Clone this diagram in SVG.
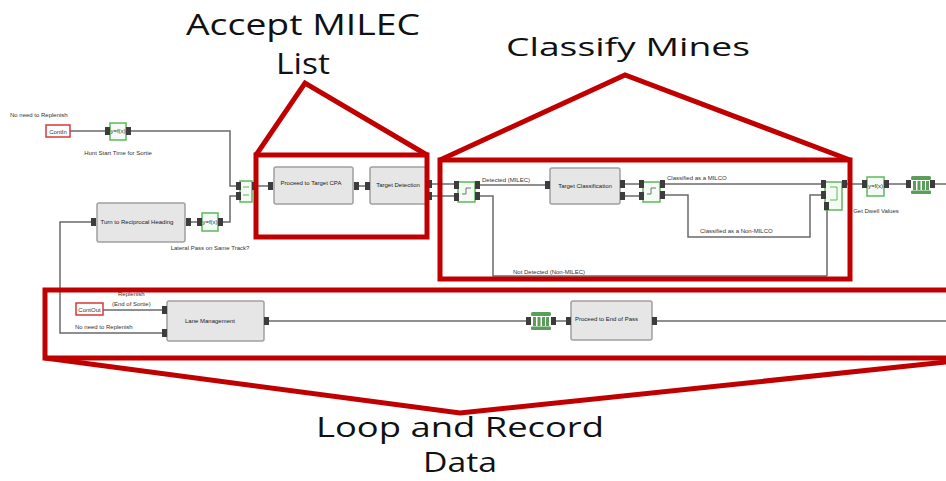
<svg xmlns="http://www.w3.org/2000/svg" width="946" height="481" viewBox="0 0 946 481">
<style>
.title{font-family:"Open Sans","Liberation Sans",sans-serif;fill:#111;}
.lbl{font-family:"Liberation Sans",Arial,sans-serif;font-size:6px;fill:#333;}
.ntxt{font-family:"Liberation Sans",Arial,sans-serif;font-size:6px;fill:#222;}
.box{fill:#e6e6e6;stroke:#a0a0a0;stroke-width:1.5;}
.gbox{fill:#f4fbf4;stroke:#5cb85c;stroke-width:1.5;}
.rbox{fill:#fff;stroke:#d8383a;stroke-width:1.5;}
.port{fill:#3c3c3c;}
.wire{fill:none;stroke:#6a6a6a;stroke-width:1.5;}
.red{fill:none;stroke:#c00000;stroke-width:5;stroke-linejoin:miter;}
.db{fill:#5a9e5a;}
</style>
<defs>
<g id="dbicon">
<rect class="db" x="0" y="0" width="20" height="4" rx="1.5"/>
<rect class="db" x="2" y="5" width="3" height="9"/>
<rect class="db" x="6.5" y="5" width="3" height="9"/>
<rect class="db" x="11" y="5" width="3" height="9"/>
<rect class="db" x="15" y="5" width="3" height="9"/>
<rect class="db" x="0" y="14.5" width="20" height="3.5" rx="1"/>
</g>
</defs>

<g id="connectors">
<path class="wire" d="M70,131 H106"/>
<path class="wire" d="M131,131 H230 V186 H237"/>
<path class="wire" d="M191,222 H198"/>
<path class="wire" d="M222,222 H230 V196 H237"/>
<path class="wire" d="M92,222 H60 V333 H163"/>
<path class="wire" d="M257,186 H269"/>
<path class="wire" d="M358,186 H366"/>
<path class="wire" d="M431,184 H455"/>
<path class="wire" d="M431,196 H455"/>
<path class="wire" d="M479,185 H546"/>
<path class="wire" d="M479,196 H493 V276 H827"/>
<path class="wire" d="M624,184 H640"/>
<path class="wire" d="M624,196 H640"/>
<path class="wire" d="M664,184 H822"/>
<path class="wire" d="M664,195 H688 V237 H810 V195 H822"/>
<path class="wire" d="M827,276 V210"/>
<path class="wire" d="M846,184 H863"/>
<path class="wire" d="M888,184 H907"/>
<path class="wire" d="M934,184 H946"/>
<path class="wire" d="M103,310 H163"/>
<path class="wire" d="M268,321 H527"/>
<path class="wire" d="M555,321 H567"/>
<path class="wire" d="M656,321 H946"/>
</g>

<g id="contin">
<text class="lbl" x="10" y="117">No need to Replenish</text>
<rect class="rbox" x="46" y="125" width="24" height="12"/>
<text class="lbl" x="58" y="133.5" text-anchor="middle">ContIn</text>
</g>

<g id="fn-hunt-start">
<rect class="gbox" x="110" y="123" width="16" height="17"/>
<text class="lbl" x="118" y="133" text-anchor="middle" font-size="5">y=f(x)</text>
<rect class="port" x="105" y="127" width="5" height="8"/>
<rect class="port" x="126" y="127" width="5" height="8"/>
<text class="lbl" x="118" y="155" text-anchor="middle" font-size="4.5">Hunt Start Time for Sortie</text>
</g>

<g id="turn-reciprocal">
<rect class="box" x="97" y="203" width="88" height="39" rx="2"/>
<text class="ntxt" x="137" y="224" text-anchor="middle">Turn to Reciprocal Heading</text>
<rect class="port" x="91" y="218" width="5" height="8"/>
<rect class="port" x="186" y="218" width="5" height="8"/>
</g>

<g id="fn-lateral-pass">
<rect class="gbox" x="202" y="213" width="16" height="18"/>
<text class="lbl" x="210" y="224" text-anchor="middle" font-size="5">y=f(x)</text>
<rect class="port" x="197" y="218" width="5" height="8"/>
<rect class="port" x="218" y="218" width="5" height="8"/>
<text class="lbl" x="210" y="250" text-anchor="middle" font-size="4.5">Lateral Pass on Same Track?</text>
</g>

<g id="merge-1">
<rect class="gbox" x="240" y="181" width="12" height="21"/>
<path d="M243,187 H249 M243,195 H249" stroke="#5cb85c" stroke-width="1"/>
<rect class="port" x="236" y="182" width="5" height="8"/>
<rect class="port" x="236" y="192" width="5" height="8"/>
<rect class="port" x="252" y="182" width="5" height="8"/>
</g>

<g id="proceed-cpa">
<rect class="box" x="274" y="167" width="79" height="37" rx="2"/>
<text class="ntxt" x="311" y="185" text-anchor="middle">Proceed to Target CPA</text>
<rect class="port" x="268" y="182" width="5" height="8"/>
<rect class="port" x="354" y="182" width="5" height="8"/>
</g>

<g id="target-detection">
<rect class="box" x="370" y="167" width="57" height="37" rx="2"/>
<text class="ntxt" x="398" y="187" text-anchor="middle">Target Detection</text>
<rect class="port" x="365" y="182" width="5" height="8"/>
<rect class="port" x="427" y="180" width="5" height="8"/>
<rect class="port" x="427" y="192" width="5" height="8"/>
</g>

<g id="switch-detect">
<rect class="gbox" x="458" y="182" width="17" height="20"/>
<path d="M462,194 H466 V188 H471" fill="none" stroke="#555" stroke-width="0.8"/>
<rect class="port" x="454" y="181" width="5" height="8"/>
<rect class="port" x="454" y="193" width="5" height="8"/>
<rect class="port" x="475" y="181" width="5" height="8"/>
<rect class="port" x="475" y="192" width="5" height="8"/>
<text class="lbl" x="482" y="182">Detected (MILEC)</text>
<text class="lbl" x="513" y="274">Not Detected (Non-MILEC)</text>
</g>

<g id="target-classification">
<rect class="box" x="550" y="168" width="70" height="36" rx="2"/>
<text class="ntxt" x="585" y="188" text-anchor="middle">Target Classification</text>
<rect class="port" x="545" y="181" width="5" height="8"/>
<rect class="port" x="620" y="180" width="5" height="8"/>
<rect class="port" x="620" y="192" width="5" height="8"/>
</g>

<g id="switch-classify">
<rect class="gbox" x="643" y="182" width="17" height="20"/>
<path d="M647,194 H651 V188 H656" fill="none" stroke="#555" stroke-width="0.8"/>
<rect class="port" x="639" y="180" width="5" height="8"/>
<rect class="port" x="639" y="192" width="5" height="8"/>
<rect class="port" x="660" y="180" width="5" height="8"/>
<rect class="port" x="660" y="191" width="5" height="8"/>
<text class="lbl" x="667" y="180">Classified as a MILCO</text>
<text class="lbl" x="700" y="233">Classified as a Non-MILCO</text>
</g>

<g id="merge-3">
<rect class="gbox" x="825" y="182" width="17" height="28"/>
<path d="M830,187 H837 V200 H830" fill="none" stroke="#5cb85c" stroke-width="1"/>
<rect class="port" x="821" y="180" width="5" height="8"/>
<rect class="port" x="821" y="191" width="5" height="8"/>
<rect class="port" x="824" y="202" width="5" height="8"/>
<rect class="port" x="842" y="180" width="5" height="8"/>
</g>

<g id="fn-dwell">
<rect class="gbox" x="867" y="177" width="17" height="19"/>
<text class="lbl" x="875.5" y="188" text-anchor="middle" font-size="5">y=f(x)</text>
<rect class="port" x="862" y="180" width="5" height="8"/>
<rect class="port" x="884" y="180" width="5" height="8"/>
<text class="lbl" x="876" y="213" text-anchor="middle" font-size="4.5">Get Dwell Values</text>
</g>

<g id="record-1">
<rect class="port" x="906" y="180" width="5" height="8"/>
<use href="#dbicon" x="911" y="176"/>
<rect class="port" x="930" y="180" width="5" height="8"/>
</g>

<g id="contout">
<rect class="rbox" x="76" y="303" width="27" height="12"/>
<text class="lbl" x="89.5" y="311.5" text-anchor="middle">ContOut</text>
<text class="lbl" x="118" y="296">Replenish</text>
<text class="lbl" x="112" y="306">(End of Sortie)</text>
<text class="lbl" x="75" y="329">No need to Replenish</text>
</g>

<g id="lane-management">
<rect class="box" x="167" y="301" width="97" height="40" rx="2"/>
<text class="ntxt" x="210" y="323" text-anchor="middle">Lane Management</text>
<rect class="port" x="162" y="306" width="5" height="8"/>
<rect class="port" x="162" y="329" width="5" height="8"/>
<rect class="port" x="264" y="317" width="5" height="8"/>
</g>

<g id="record-2">
<rect class="port" x="526" y="317" width="5" height="8"/>
<use href="#dbicon" x="531" y="312"/>
<rect class="port" x="551" y="317" width="5" height="8"/>
</g>

<g id="proceed-end">
<rect class="box" x="571" y="301" width="81" height="39" rx="2"/>
<text class="ntxt" x="575" y="321">Proceed to End of Pass</text>
<rect class="port" x="566" y="317" width="5" height="8"/>
<rect class="port" x="652" y="317" width="5" height="8"/>
</g>

<g id="accept-milec">
<rect class="red" x="256" y="155" width="171" height="82"/>
<path class="red" d="M256,155 L305,83 L427,155"/>
<text class="title" x="303" y="35" font-size="29" text-anchor="middle" textLength="234" lengthAdjust="spacingAndGlyphs">Accept MILEC</text>
<text class="title" x="303" y="74" font-size="29" text-anchor="middle" textLength="54" lengthAdjust="spacingAndGlyphs">List</text>
</g>

<g id="classify-mines">
<rect class="red" x="440" y="160" width="410" height="119"/>
<path class="red" d="M440,160 L625,75 L850,160"/>
<text class="title" x="628" y="56" font-size="26" text-anchor="middle" textLength="244" lengthAdjust="spacingAndGlyphs">Classify Mines</text>
</g>

<g id="loop-record">
<rect class="red" x="45" y="290" width="940" height="68"/>
<path class="red" d="M45,358 L460,413 L985,358"/>
<text class="title" x="460" y="437" font-size="27" text-anchor="middle" textLength="288" lengthAdjust="spacingAndGlyphs">Loop and Record</text>
<text class="title" x="460" y="472" font-size="27" text-anchor="middle" textLength="74" lengthAdjust="spacingAndGlyphs">Data</text>
</g>
</svg>
